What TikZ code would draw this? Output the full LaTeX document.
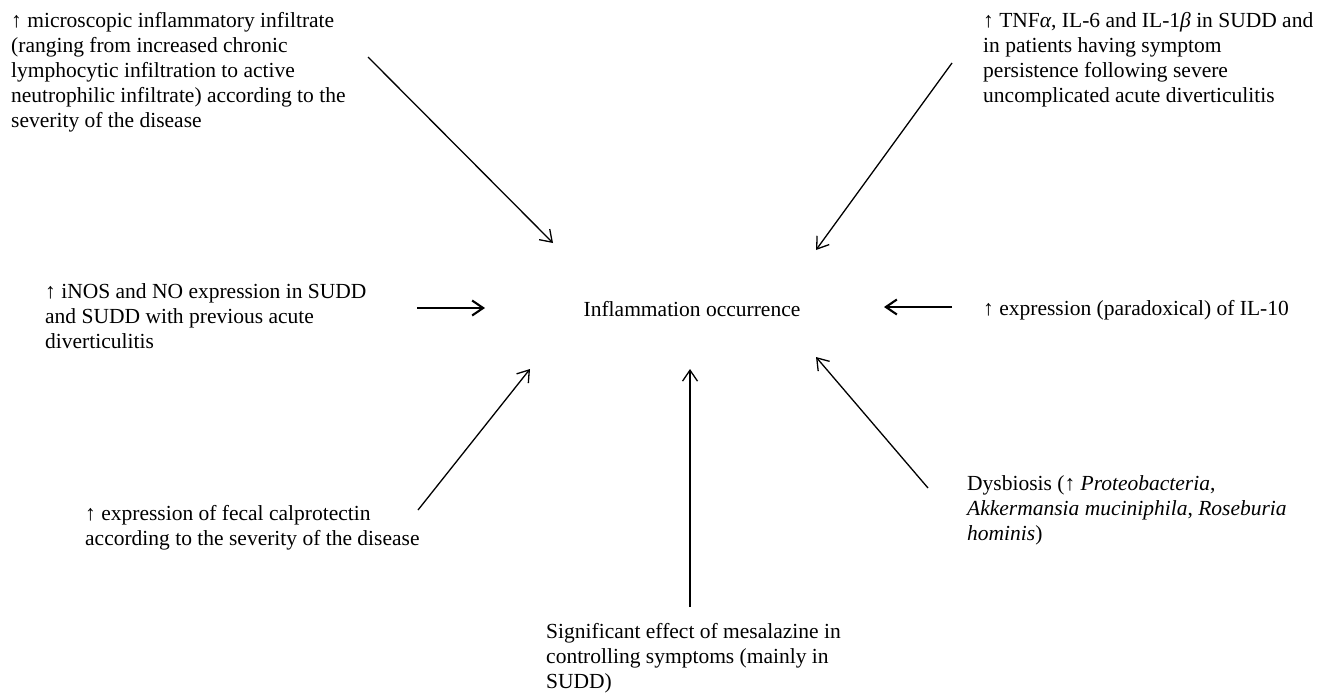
\documentclass[tikz,border=0pt]{standalone}
\usepackage{fontspec}
\setmainfont{Liberation Serif}
\usetikzlibrary{arrows.meta}
\begin{document}
\begin{tikzpicture}[x=1pt, y=-1pt, >={Straight Barb[length=11pt,width=15pt]},
          note/.style={anchor=north west, inner sep=0pt, align=left, font=\fontsize{21.5}{25}\selectfont},
          link/.style={->, line width=1.3pt},
          boldlink/.style={->, line width=2.1pt}]
        \useasboundingbox (0,0) rectangle (1331,694);
        % centre
        \node[anchor=base, inner sep=0pt, font=\fontsize{21.5}{25}\selectfont] (inflam) at (692,316) {Inflammation occurrence};
        % causes
        \node[note] (infiltrate) at (11,12) {↑ microscopic inflammatory infiltrate\\(ranging from increased chronic\\lymphocytic infiltration to active\\neutrophilic infiltrate) according to the\\severity of the disease};
        \node[note] (cytokines) at (983,12) {↑ TNF\textit{α}, IL-6 and IL-1\textit{β} in SUDD and\\in patients having symptom\\persistence following severe\\uncomplicated acute diverticulitis};
        \node[note] (inos) at (45,283) {↑ iNOS and NO expression in SUDD\\and SUDD with previous acute\\diverticulitis};
        \node[note] (il10) at (983,300) {↑ expression (paradoxical) of IL-10};
        \node[note] (calpro) at (85,505) {↑ expression of fecal calprotectin\\according to the severity of the disease};
        \node[note] (mesal) at (546,623) {Significant effect of mesalazine in\\controlling symptoms (mainly in\\SUDD)};
        \node[note] (dysbio) at (967,475) {Dysbiosis (↑ \textit{Proteobacteria},\\\textit{Akkermansia muciniphila}, \textit{Roseburia}\\\textit{hominis})};
        % arrow ends
        \coordinate (infiltrate-s) at (368,57);
        \coordinate (infiltrate-e) at (553,243);
        \coordinate (cytokines-s) at (952,63);
        \coordinate (cytokines-e) at (816,250);
        \coordinate (inos-s) at (417,308);
        \coordinate (inos-e) at (485,308);
        \coordinate (il10-s) at (952,307);
        \coordinate (il10-e) at (884,307);
        \coordinate (calpro-s) at (418,510);
        \coordinate (calpro-e) at (530,369);
        \coordinate (mesal-s) at (690,607);
        \coordinate (mesal-e) at (690,369);
        \coordinate (dysbio-s) at (928,488);
        \coordinate (dysbio-e) at (816,357);
        \foreach \n in {infiltrate, cytokines, calpro, mesal, dysbio}
          \draw[link] (\n-s) -- (\n-e);
        \foreach \n in {inos, il10}
          \draw[boldlink] (\n-s) -- (\n-e);
      \end{tikzpicture}
\end{document}
